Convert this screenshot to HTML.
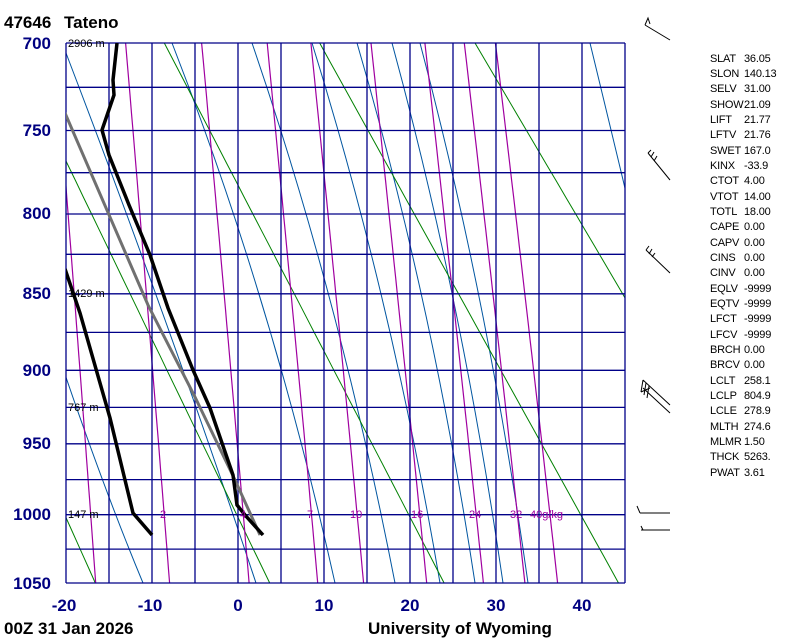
<!DOCTYPE html>
<html><head><meta charset="utf-8"><style>
html,body{margin:0;padding:0;background:#fff;width:800px;height:640px;overflow:hidden}
svg{display:block}
text{font-family:"Liberation Sans",sans-serif}
</style></head><body>
<svg id="s" width="800" height="640" xmlns="http://www.w3.org/2000/svg">
<defs><clipPath id="c"><rect x="66" y="43" width="559" height="540"/></clipPath></defs>
<g id="bg" clip-path="url(#c)">
<g fill="none" stroke="#0055a0" stroke-width="1">
<path d="M143,583 Q100,480 50,330"/>
<path d="M256,583 Q172,330 66,53"/>
<path d="M335,583 Q272,300 172,43"/>
<path d="M395,583 Q340,300 252,43"/>
<path d="M440,583 Q392,300 312,43"/>
<path d="M475,583 Q432,300 357,43"/>
<path d="M503,583 Q462,300 392,43"/>
<path d="M528,583 Q488,300 420,43"/>
<path d="M675,400 Q645,270 590,43"/>
</g>
</g>
<g id="grid"></g>
<g id="prof" clip-path="url(#c)">
<polyline points="65,113 148,305 195,397 235,480 260,535" fill="none" stroke="#707070" stroke-width="3"/>
<polyline points="117,43 113,80 114,95 102,130 109,155 129,205 150,255 168,308 193,370 210,408 233,475 237,505 245,515 263,535" fill="none" stroke="#000" stroke-width="3.5"/>
<polyline points="65,269 80,313 110,418 125,480 133,513 152,535" fill="none" stroke="#000" stroke-width="3.5"/>
</g>
<g font-size="11" fill="#000">
<text x="68" y="47">2906 m</text>
<text x="68" y="297">1429 m</text>
<text x="68" y="411">767 m</text>
<text x="68" y="518">147 m</text>
</g>
<g font-size="11" fill="#a000a0">
<text x="160" y="518">2</text>
<text x="240" y="518">4</text>
<text x="307" y="518">7</text>
<text x="350" y="518">10</text>
<text x="411" y="518">16</text>
<text x="469" y="518">24</text>
<text x="510" y="518">32</text>
<text x="530" y="518">40g/kg</text>
</g>
<g font-size="17" font-weight="bold" fill="#000080" text-anchor="end">
<text x="51" y="49">700</text><text x="51" y="136">750</text><text x="51" y="219">800</text>
<text x="51" y="299">850</text><text x="51" y="376">900</text><text x="51" y="449">950</text>
<text x="51" y="520">1000</text><text x="51" y="589">1050</text>
</g>
<g font-size="17" font-weight="bold" fill="#000080" text-anchor="middle">
<text x="64" y="611">-20</text><text x="150" y="611">-10</text><text x="238" y="611">0</text>
<text x="324" y="611">10</text><text x="410" y="611">20</text><text x="496" y="611">30</text><text x="582" y="611">40</text>
</g>
<g font-size="17" font-weight="bold" fill="#000">
<text x="4" y="28">47646</text><text x="64" y="28">Tateno</text>
<text x="4" y="634">00Z 31 Jan 2026</text>
<text x="368" y="634">University of Wyoming</text>
</g>
<g stroke="#000" stroke-width="1" fill="none">
<path d="M645,25 L670,40 M645,25 L648,18 L650,24"/>
<path d="M648,153 L670,180 M648,153 L651,150 M651,157 L654,152 M654,161 L657,156"/>
<path d="M646,250 L670,273 M646,250 L649,246 M649,254 L652,249 M652,257 L655,253"/>
<path d="M643,380 L670,405 M643,388 L670,413 M643,380 L641,392 M646,383 L644,395 M649,386 L647,398 M641,392 L650,388"/>
<path d="M640,513 L670,513 M637,506 L640,513"/>
<path d="M641,530 L670,530 M641,526 L643,530"/>
</g>
<g font-size="11" fill="#000" letter-spacing="-0.2">
<text x="710" y="62">SLAT</text><text x="744" y="62">36.05</text>
<text x="710" y="77">SLON</text><text x="744" y="77">140.13</text>
<text x="710" y="92">SELV</text><text x="744" y="92">31.00</text>
<text x="710" y="108">SHOW</text><text x="744" y="108">21.09</text>
<text x="710" y="123">LIFT</text><text x="744" y="123">21.77</text>
<text x="710" y="138">LFTV</text><text x="744" y="138">21.76</text>
<text x="710" y="154">SWET</text><text x="744" y="154">167.0</text>
<text x="710" y="169">KINX</text><text x="744" y="169">-33.9</text>
<text x="710" y="184">CTOT</text><text x="744" y="184">4.00</text>
<text x="710" y="200">VTOT</text><text x="744" y="200">14.00</text>
<text x="710" y="215">TOTL</text><text x="744" y="215">18.00</text>
<text x="710" y="230">CAPE</text><text x="744" y="230">0.00</text>
<text x="710" y="246">CAPV</text><text x="744" y="246">0.00</text>
<text x="710" y="261">CINS</text><text x="744" y="261">0.00</text>
<text x="710" y="276">CINV</text><text x="744" y="276">0.00</text>
<text x="710" y="292">EQLV</text><text x="744" y="292">-9999</text>
<text x="710" y="307">EQTV</text><text x="744" y="307">-9999</text>
<text x="710" y="322">LFCT</text><text x="744" y="322">-9999</text>
<text x="710" y="338">LFCV</text><text x="744" y="338">-9999</text>
<text x="710" y="353">BRCH</text><text x="744" y="353">0.00</text>
<text x="710" y="368">BRCV</text><text x="744" y="368">0.00</text>
<text x="710" y="384">LCLT</text><text x="744" y="384">258.1</text>
<text x="710" y="399">LCLP</text><text x="744" y="399">804.9</text>
<text x="710" y="414">LCLE</text><text x="744" y="414">278.9</text>
<text x="710" y="430">MLTH</text><text x="744" y="430">274.6</text>
<text x="710" y="445">MLMR</text><text x="744" y="445">1.50</text>
<text x="710" y="460">THCK</text><text x="744" y="460">5263.</text>
<text x="710" y="476">PWAT</text><text x="744" y="476">3.61</text>
</g>
</svg>
<script>
(function(){
var NS="http://www.w3.org/2000/svg",K=0.286;
var a0=Math.pow(700,K),a1=Math.pow(1050,K);
function Y(p){return 43+(Math.pow(p,K)-a0)/(a1-a0)*540;}
function X(t){return 66+(t+20)*8.6;}
function pl(g,pts,col,w){var e=document.createElementNS(NS,"polyline");
e.setAttribute("points",pts.map(function(q){return q[0].toFixed(1)+","+q[1].toFixed(1)}).join(" "));
e.setAttribute("fill","none");e.setAttribute("stroke",col);e.setAttribute("stroke-width",w);g.appendChild(e);}
var bg=document.getElementById("bg"),gr=document.getElementById("grid");
[213,233,253,273,293,313,333,353,373].forEach(function(th){var pts=[];
for(var p=700;p<=1050;p+=10)pts.push([X(th*Math.pow(p/1000,K)-273.15),Y(p)]);pl(bg,pts,"#008000",1);});
[0.4,1,2,4,7,10,16,24,32,40].forEach(function(w){var pts=[];
for(var p=700;p<=1050;p+=10){var e=w*p/(622+w),l=Math.log(e/6.112);pts.push([X(243.5*l/(17.67-l)),Y(p)]);}
pl(bg,pts,"#a000a0",1.2);});
[700,725,750,775,800,825,850,875,900,925,950,975,1000,1025,1050].forEach(function(p){
pl(gr,[[66,Y(p)],[625,Y(p)]],"#000088",1.3);});
for(var k=0;k<=13;k++){var x=66+k*43;pl(gr,[[x,43],[x,583]],"#000088",1.3);}
})();
</script>
</body></html>
